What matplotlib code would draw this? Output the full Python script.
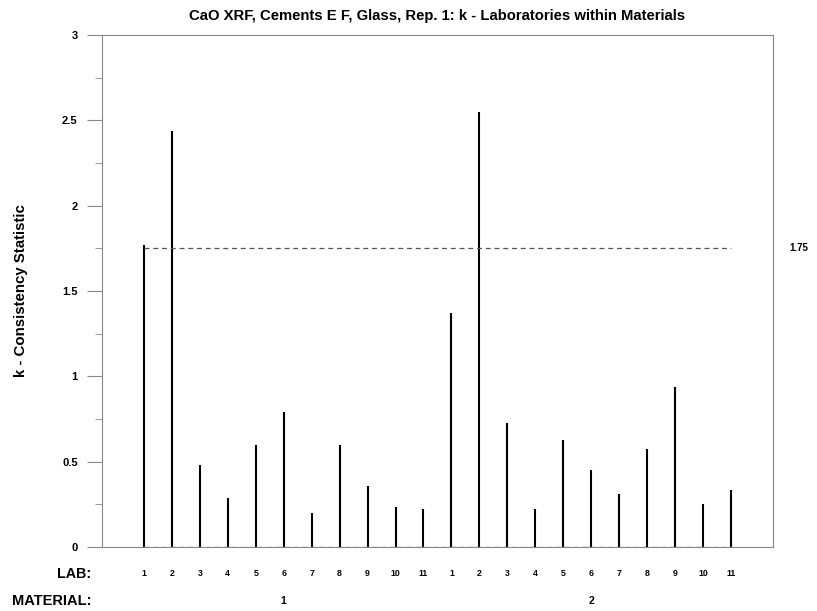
import matplotlib
matplotlib.use("Agg")
import matplotlib.pyplot as plt
from matplotlib.ticker import MultipleLocator
from matplotlib.transforms import blended_transform_factory

plt.rcParams["font.family"] = ["Liberation Sans", "DejaVu Sans"]
plt.rcParams["font.weight"] = "bold"

# k statistic per lab, two materials
labs = [1, 2, 3, 4, 5, 6, 7, 8, 9, 10, 11]
materials = ["1", "2"]
k_mat1 = [1.77, 2.44, 0.48, 0.29, 0.60, 0.79, 0.20, 0.60, 0.355, 0.235, 0.225]
k_mat2 = [1.37, 2.55, 0.725, 0.22, 0.63, 0.45, 0.31, 0.575, 0.935, 0.25, 0.335]
k_crit = 1.75

values = k_mat1 + k_mat2
pos = list(range(1, len(values) + 1))

fig = plt.figure(figsize=(8.17, 6.11), dpi=100)
ax = fig.add_axes([0.1248, 0.1047, 0.8213, 0.838])

ax.vlines(pos, 0, values, color="black", linewidth=1.5)
ax.hlines(0, pos[0], pos[-1], color="#555555", linestyle=(0, (4, 3)), linewidth=0.9)
ax.hlines(k_crit, pos[0], pos[-1], color="#555555", linestyle=(0, (4, 3)), linewidth=0.9)
ax.text(1.025, k_crit, "%g" % k_crit, fontsize=7, fontweight="bold",
        ha="left", va="center", clip_on=False,
        transform=blended_transform_factory(ax.transAxes, ax.transData))

ax.set_xlim(-0.5, 23.5)
ax.set_ylim(0, 3)
ax.set_yticks([0, 0.5, 1, 1.5, 2, 2.5, 3])
ax.set_yticklabels(["0", "0.5", "1", "1.5", "2", "2.5", "3"])
ax.yaxis.set_minor_locator(MultipleLocator(0.25))
ax.tick_params(axis="y", which="major", length=11, color="#888888", labelsize=8, pad=6.5)
ax.tick_params(axis="y", which="minor", length=5, color="#888888")
ax.set_xticks([])
for s in ax.spines.values():
    s.set_color("#888888")

ax.set_ylabel("k - Consistency Statistic", fontsize=10.8, fontweight="bold")
ax.yaxis.set_label_coords(-0.11, 0.5)
ax.set_title("CaO XRF, Cements E F, Glass, Rep. 1: k - Laboratories within Materials",
             fontsize=10.7, fontweight="bold", pad=11)

# lab and material labels under the axis
tr = ax.get_xaxis_transform()
for p, lab in zip(pos, labs + labs):
    ax.text(p, -0.052, str(lab), transform=tr, ha="center", va="center",
            fontsize=6.3, fontweight="bold")
ax.text(-0.016, -0.052, "LAB:", transform=ax.transAxes, ha="right", va="center",
        fontsize=10.3, fontweight="bold")
ax.text(-0.016, -0.105, "MATERIAL:", transform=ax.transAxes, ha="right", va="center",
        fontsize=10.5, fontweight="bold")
for i, m in enumerate(materials):
    ax.text(6 + 11 * i, -0.105, m, transform=tr, ha="center", va="center",
            fontsize=7.5, fontweight="bold")

plt.savefig("out.png", dpi=100)
